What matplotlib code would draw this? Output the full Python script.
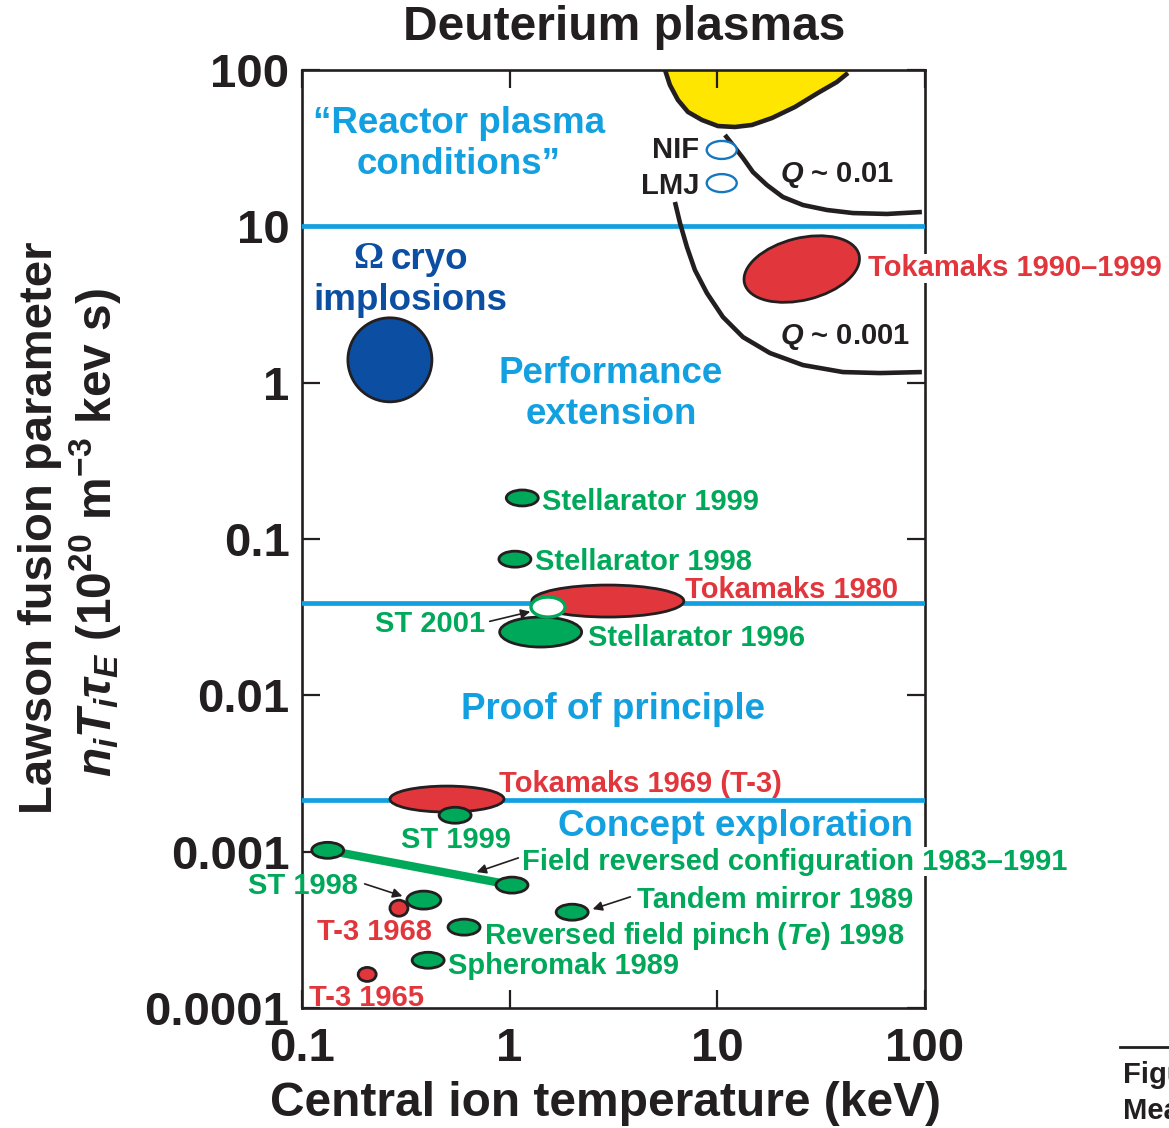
import numpy as np
import matplotlib
matplotlib.use("Agg")
import matplotlib.pyplot as plt
from matplotlib.patches import Ellipse, FancyArrowPatch
from matplotlib.lines import Line2D
from matplotlib.transforms import ScaledTranslation
from matplotlib.ticker import FixedLocator, FixedFormatter

plt.rcParams['font.family'] = ['Liberation Sans', 'DejaVu Sans']
plt.rcParams['font.weight'] = 'bold'
plt.rcParams['mathtext.fontset'] = 'custom'
plt.rcParams['mathtext.it'] = 'Liberation Sans:bold:italic'
plt.rcParams['mathtext.rm'] = 'Liberation Sans:bold'
plt.rcParams['mathtext.bf'] = 'Liberation Sans:bold'

# ---------------- data ----------------
# axis ticks
x_ticks = [0.1, 1, 10, 100]
x_tick_labels = ["0.1", "1", "10", "100"]
y_ticks = [1e-4, 1e-3, 1e-2, 1e-1, 1, 10, 100]
y_tick_labels = ["0.0001", "0.001", "0.01", "0.1", "1", "10", "100"]

# boundaries between research regimes (n_i T_i tau_E)
regime_levels = [10.0, 0.039, 0.00215]

# ignition region boundary (T in keV, n_i T_i tau_E)
ign_T = [5.60, 5.91, 6.46, 7.22, 8.43, 10.07, 12.15, 14.68, 18.32, 23.64,
         30.5, 37.65, 42.55]
ign_n = [100.0, 80.2, 64.3, 53.9, 47.9, 43.8, 43.2, 44.5, 49.3, 58.0,
         71.3, 83.8, 95.7]

# Q ~ 0.01 contour
q01_T = [10.88, 11.89, 13.29, 14.84, 17.33, 20.69, 25.83, 33.71, 44.98,
         65.56, 96.6]
q01_n = [38.4, 33.1, 27.35, 22.25, 18.37, 15.40, 13.69, 12.72, 12.16,
         12.0, 12.35]

# Q ~ 0.001 contour
q001_T = [6.25, 6.61, 7.14, 7.80, 8.91, 10.64, 13.29, 17.92, 25.83, 40.25,
          60.7, 96.6]
q001_n = [14.31, 10.50, 7.37, 5.25, 3.74, 2.63, 1.957, 1.547, 1.296, 1.169,
          1.152, 1.169]

# inertial confinement
omega_T, omega_n = 0.265, 1.40
laser_names = ["NIF", "LMJ"]
laser_T = [10.5, 10.5]
laser_n = [30.8, 18.9]

# tokamak results
red_names = ["Tokamaks 1990\u20131999", "Tokamaks 1980", "Tokamaks 1969 (T-3)",
             "T-3 1968", "T-3 1965"]
red_T = [25.5, 2.97, 0.499, 0.293, 0.206]
red_n = [5.33, 0.0401, 0.00217, 0.000435, 0.000164]

# alternative concepts
green_names = ["Stellarator 1999", "Stellarator 1998", "Stellarator 1996",
               "ST 1999", "ST 1998", "Tandem mirror 1989",
               "Reversed field pinch ($Te$) 1998", "Spheromak 1989"]
green_T = [1.15, 1.06, 1.41, 0.546, 0.386, 2.0, 0.603, 0.405]
green_n = [0.183, 0.0743, 0.0254, 0.00171, 0.00049, 0.00041, 0.000329, 0.000202]

frc_name = "Field reversed configuration 1983\u20131991"
frc_T = [0.133, 1.026]
frc_n = [0.00102, 0.000611]

st2001_name = "ST 2001"
st2001_T, st2001_n = 1.53, 0.0367

# ---------------- styles ----------------
W, H = 1169, 1128
BLUE = '#12a0e0'
DARKBLUE = '#0b4ea2'
RED = '#e2363d'
GREEN = '#00a859'
YELLOW = '#ffe600'
INK = '#231f20'

# blob sizes in pixels (width, height, angle)
red_size = [(118, 62, 14), (152, 32, 0), (114, 26, 0), (18, 16, 0), (18, 14, 0)]
green_size = [(32, 16, 0), (32, 16, 0), (82, 30, 0), (32, 16, 0), (34, 18, 0),
              (32, 16, 0), (32, 16, 0), (32, 16, 0)]


def fxy(x, y):
    """figure pixel position (origin top-left) -> figure fraction"""
    return (x / W, 1 - y / H)


fig = plt.figure(figsize=(W / 100, H / 100), dpi=100)
ax = fig.add_axes([302 / W, 1 - 1008 / H, 623 / W, 938 / H])
ax.set_xscale('log')
ax.set_yscale('log')
ax.set_xlim(0.1, 100)
ax.set_ylim(1e-4, 100)

for s in ax.spines.values():
    s.set_linewidth(1.9)
    s.set_color(INK)
    s.set_zorder(1.5)

ax.xaxis.set_major_locator(FixedLocator(x_ticks))
ax.xaxis.set_major_formatter(FixedFormatter(x_tick_labels))
ax.yaxis.set_major_locator(FixedLocator(y_ticks))
ax.yaxis.set_major_formatter(FixedFormatter(y_tick_labels))
ax.minorticks_off()
ax.tick_params(which='major', direction='in', length=13, width=1.6, color=INK,
               top=True, right=True, labelsize=34, labelcolor=INK)
ax.tick_params(axis='y', pad=9)
ax.tick_params(axis='x', pad=14)


def blob(T, n, w, h, face, edge=INK, lw=2.0, angle=0, z=3):
    tr = fig.dpi_scale_trans + ScaledTranslation(T, n, ax.transData)
    ax.add_patch(Ellipse((0, 0), w / 100, h / 100, angle=angle, transform=tr,
                         facecolor=face, edgecolor=edge, lw=lw, zorder=z))


# regime boundaries
for lv in regime_levels:
    ax.axhline(lv, color=BLUE, lw=3.4, zorder=2)

# ignition region and Q contours
curve_kw = dict(color=INK, lw=3.3, zorder=2.2, solid_capstyle='butt',
                solid_joinstyle='round')
ax.fill_between(ign_T, ign_n, 100, color=YELLOW, lw=0, zorder=1)
ax.plot(ign_T, ign_n, **curve_kw)
ax.plot(q01_T, q01_n, **curve_kw)
ax.plot(q001_T, q001_n, **curve_kw)

# inertial confinement
blob(omega_T, omega_n, 84, 84, DARKBLUE)
for T, n in zip(laser_T, laser_n):
    blob(T, n, 30, 18, 'white', edge='#1577c0', lw=1.7)

# tokamaks
for T, n, (w, h, a) in zip(red_T, red_n, red_size):
    blob(T, n, w, h, RED, angle=a, z=3)

# field reversed configuration trend
ax.plot(frc_T, frc_n, color=GREEN, lw=6, zorder=2.8, solid_capstyle='butt')
for T, n in zip(frc_T, frc_n):
    blob(T, n, 32, 16, GREEN, z=3.2)

# other concepts
for T, n, (w, h, a) in zip(green_T, green_n, green_size):
    blob(T, n, w, h, GREEN, angle=a, z=3.4)

blob(st2001_T, st2001_n, 34, 20, 'white', edge=GREEN, lw=2.4, z=3.6)


# ---------------- text ----------------
def label(x, y, s, color, size=21, ha='left', bg=False, **kw):
    # small downward nudge: bbox centring includes descender space
    t = fig.text(*fxy(x, y + 2.5), s, color=color, fontsize=size, ha=ha,
                 va='center', fontweight='bold', zorder=5, **kw)
    if bg:
        t.set_bbox(dict(facecolor='white', edgecolor='none', pad=0.3))
    return t


fig.text(*fxy(624, 28), "Deuterium plasmas", fontsize=34.5, ha='center',
         va='center', color=INK, fontweight='bold')
fig.text(*fxy(606, 1103), "Central ion temperature (keV)", fontsize=34.5,
         ha='center', va='center', color=INK, fontweight='bold')
fig.text(*fxy(40, 528), "Lawson fusion parameter", fontsize=34, rotation=90,
         ha='center', va='center', color=INK, fontweight='bold')
fig.text(*fxy(95, 532), r"$n_iT_i\tau_E$ (10$^{20}$ m$^{-3}$ kev s)",
         fontsize=34.5, rotation=90, ha='center', va='center', color=INK,
         fontweight='bold')

# regime names
label(459, 121, "\u201cReactor plasma", BLUE, 26.5, ha='center')
label(459, 162, "conditions\u201d", BLUE, 26.5, ha='center')
label(383, 256, "\u03a9", DARKBLUE, 27, ha='right', family='Liberation Serif')
label(391, 257, "cryo", DARKBLUE, 26.5)
label(410, 298, "implosions", DARKBLUE, 26.5, ha='center')
label(611, 371, "Performance", BLUE, 26.5, ha='center')
label(611, 412, "extension", BLUE, 26.5, ha='center')
label(613, 707, "Proof of principle", BLUE, 26.5, ha='center')
label(558, 824, "Concept exploration", BLUE, 26.5)

# Q contours
label(780, 173, "$Q$ ~ 0.01", INK, 21)
label(780, 335, "$Q$ ~ 0.001", INK, 21)

# laser facilities
label(699, 148, laser_names[0], INK, 21, ha='right')
label(699, 183, laser_names[1], INK, 21, ha='right')

# tokamak labels
red_pos = [(868, 266), (685, 587), (499, 782), (317, 930), (309, 995)]
for (x, y), s, bg in zip(red_pos, red_names, [True, False, False, False, False]):
    label(x, y, s, RED, 21, bg=bg)

# concept labels
green_pos = [(542, 500, 'left'), (535, 559, 'left'), (588, 635, 'left'),
             (456, 838, 'center'), (358, 884, 'right'), (637, 898, 'left'),
             (484, 933, 'left'), (448, 963, 'left')]
for (x, y, ha), s in zip(green_pos, green_names):
    label(x, y, s, GREEN, 21, ha=ha)
label(522, 859, frc_name, GREEN, 21, bg=True)
label(485, 622, st2001_name, GREEN, 21, ha='right')

# pointer arrows
for (x0, y0), (x1, y1) in [((487, 622), (533, 611)), ((521, 857), (474, 873)),
                           ((362, 883), (405, 897)), ((633, 896), (590, 910))]:
    fig.add_artist(FancyArrowPatch(
        fxy(x0, y0), fxy(x1, y1), transform=fig.transFigure,
        arrowstyle='-|>', mutation_scale=14, color=INK, lw=1.2, zorder=6))

# caption fragment at the page edge
fig.add_artist(Line2D([1120 / W, 1.0], [1 - 1047 / H] * 2,
                      transform=fig.transFigure, color=INK, lw=2))
fig.text(*fxy(1123, 1075), "Figure", fontsize=21, ha='left', va='center',
         color=INK, fontweight='bold')
fig.text(*fxy(1123, 1111), "Measured", fontsize=21, ha='left', va='center',
         color=INK, fontweight='bold')

fig.savefig("out.png", dpi=100)
